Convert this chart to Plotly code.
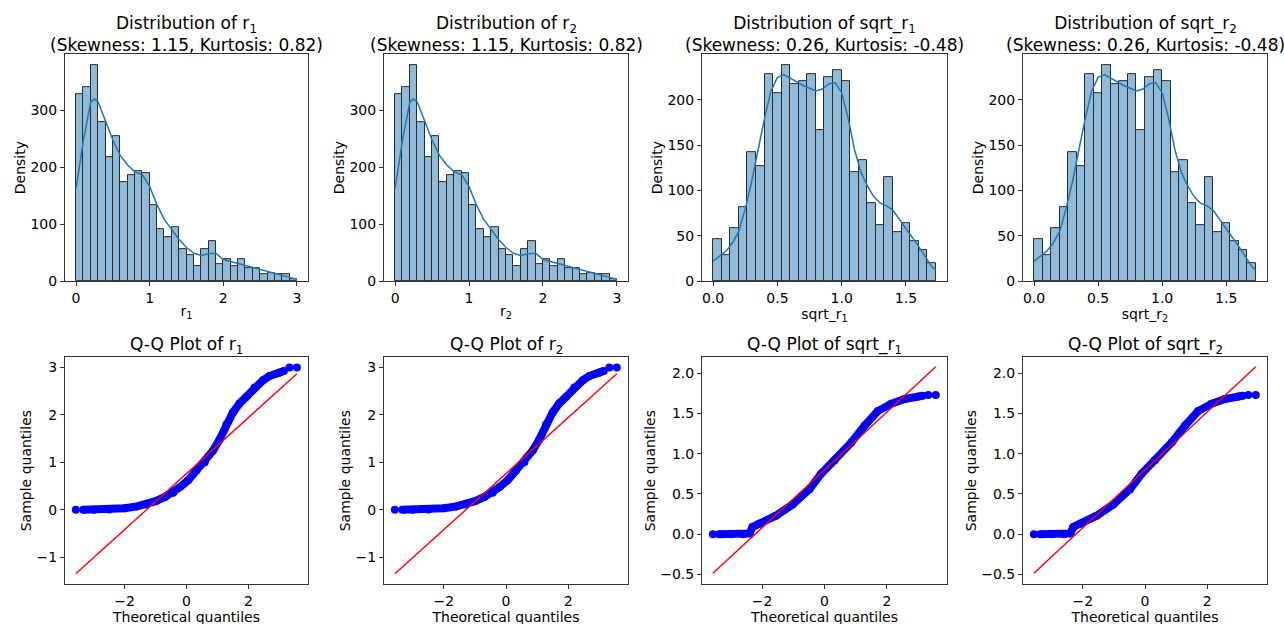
import numpy as np
import plotly.graph_objects as go

# ---------------- data ----------------
# histogram of r (30 bins on [0, 3])
r_bin_range = (0.0, 3.0)
r_counts = [328, 341, 380, 279, 218, 255, 174, 186, 194, 190,
            133, 92, 77, 95, 57, 46, 26, 57, 70, 29,
            38, 26, 39, 23, 22, 13, 14, 13, 12, 4]
r_kde_x = [0.0, 0.1, 0.2, 0.25, 0.3, 0.4, 0.5, 0.6, 0.7, 0.8, 0.9, 1.0, 1.1, 1.2,
           1.3, 1.4, 1.5, 1.6, 1.7, 1.8, 1.9, 2.0, 2.2, 2.4, 2.6, 2.8, 3.0]
r_kde_y = [163, 248, 315, 320, 315, 283, 248, 221, 204, 192, 187, 166, 134, 108,
           91, 73, 59, 49, 45, 48, 49, 38, 31, 24, 16, 10, 3]

# histogram of sqrt_r (26 bins on [0, sqrt(3)])
s_bin_range = (0.0, 1.732)
s_counts = [46, 29, 58, 82, 142, 127, 229, 208, 239, 218, 221, 229, 167,
            225, 233, 221, 120, 134, 86, 62, 115, 54, 64, 44, 34, 20]
s_kde_x = [0.0, 0.1, 0.15, 0.2, 0.25, 0.3, 0.35, 0.4, 0.45, 0.5, 0.55, 0.6, 0.7, 0.8,
           0.85, 0.9, 0.95, 1.0, 1.05, 1.1, 1.15, 1.2, 1.25, 1.3, 1.35, 1.4, 1.45,
           1.5, 1.6, 1.7, 1.732]
s_kde_y = [22, 33, 42, 55, 80, 110, 145, 180, 210, 225, 228, 224, 216, 210,
           212, 218, 219, 208, 180, 145, 120, 105, 93, 86, 83, 78, 68,
           57, 38, 16, 12]

# Q-Q plot of r
qq_r_theo = [-3.34, -3.0, -2.5, -2.0, -1.6, -1.3, -1.0, -0.7, -0.43, -0.21, 0.05, 0.32,
             0.59, 0.86, 1.07, 1.29, 1.5, 1.71, 1.93, 2.2, 2.47, 2.68, 3.0, 3.15]
qq_r_samp = [0.0, 0.0, 0.005, 0.03, 0.07, 0.11, 0.18, 0.27, 0.36, 0.48, 0.62, 0.83,
             1.0, 1.25, 1.48, 1.8, 2.05, 2.24, 2.38, 2.58, 2.73, 2.82, 2.89, 2.93]
qq_r_ext_theo = [-3.58, 3.33, 3.57]
qq_r_ext_samp = [0.0, 3.0, 3.0]
qq_r_line_x = [-3.58, 3.57]
qq_r_line_y = [-1.35, 2.87]

# Q-Q plot of sqrt_r
qq_s_theo = [-3.38, -3.0, -2.6, -2.4, -2.31, -2.09, -1.56, -1.02, -0.48, -0.11, 0.32,
             0.86, 1.29, 1.71, 2.14, 2.57, 3.0, 3.15]
qq_s_samp = [0.0, 0.0, 0.0, 0.01, 0.09, 0.13, 0.23, 0.37, 0.56, 0.75, 0.92,
             1.14, 1.35, 1.53, 1.62, 1.68, 1.71, 1.72]
qq_s_ext_theo = [-3.58, 3.33, 3.57]
qq_s_ext_samp = [0.0, 1.73, 1.73]
qq_s_line_x = [-3.58, 3.57]
qq_s_line_y = [-0.485, 2.08]

names = ["r<sub>1</sub>", "r<sub>2</sub>", "sqrt_r<sub>1</sub>", "sqrt_r<sub>2</sub>"]
skew_kurt = ["(Skewness: 1.15, Kurtosis: 0.82)", "(Skewness: 1.15, Kurtosis: 0.82)",
             "(Skewness: 0.26, Kurtosis: -0.48)", "(Skewness: 0.26, Kurtosis: -0.48)"]

# ---------------- layout geometry ----------------
W, H = 1284, 624          # reference picture size (positions below are in its pixels)
FIG_H = 630               # figure height actually used
col_px = [(65, 308), (384, 628), (702, 947), (1023, 1267)]
top_px = (54.3, 282)
bot_px = (358.3, 586)

def xd(c):
    return [col_px[c][0] / W, col_px[c][1] / W]

def yd(rp):
    return [1 - rp[1] / H, 1 - rp[0] / H]

fig = go.Figure()

hist_blue = "rgba(31,119,180,0.5)"
edge = "#2a2a2a"
kde_col = "#1f77b4"

def add_hist(idx, counts, rng, kx, ky):
    n = len(counts)
    bw = (rng[1] - rng[0]) / n
    edges = [rng[0] + i * bw for i in range(n)]
    xa = "x" if idx == 1 else f"x{idx}"
    ya = "y" if idx == 1 else f"y{idx}"
    fig.add_trace(go.Bar(x=edges, y=counts, width=bw, offset=0,
                         marker=dict(color=hist_blue, line=dict(color=edge, width=1)),
                         xaxis=xa, yaxis=ya, showlegend=False))
    fig.add_trace(go.Scatter(x=kx, y=ky, mode="lines", line=dict(color=kde_col, width=1.5),
                             xaxis=xa, yaxis=ya, showlegend=False))

def add_qq(idx, tx, sy, ex, ey, lx, ly):
    xa = f"x{idx}"
    ya = f"y{idx}"
    fig.add_trace(go.Scatter(x=tx, y=sy, mode="lines+markers",
                             line=dict(color="blue", width=8),
                             marker=dict(color="blue", size=8),
                             xaxis=xa, yaxis=ya, showlegend=False))
    fig.add_trace(go.Scatter(x=ex, y=ey, mode="markers",
                             marker=dict(color="blue", size=8),
                             xaxis=xa, yaxis=ya, showlegend=False))
    fig.add_trace(go.Scatter(x=lx, y=ly, mode="lines", line=dict(color="red", width=1.4),
                             xaxis=xa, yaxis=ya, showlegend=False))

hist_data = [(r_counts, r_bin_range, r_kde_x, r_kde_y), (r_counts, r_bin_range, r_kde_x, r_kde_y),
             (s_counts, s_bin_range, s_kde_x, s_kde_y), (s_counts, s_bin_range, s_kde_x, s_kde_y)]
for c in range(4):
    add_hist(c + 1, *hist_data[c])

qq_data = [(qq_r_theo, qq_r_samp, qq_r_ext_theo, qq_r_ext_samp, qq_r_line_x, qq_r_line_y),
           (qq_r_theo, qq_r_samp, qq_r_ext_theo, qq_r_ext_samp, qq_r_line_x, qq_r_line_y),
           (qq_s_theo, qq_s_samp, qq_s_ext_theo, qq_s_ext_samp, qq_s_line_x, qq_s_line_y),
           (qq_s_theo, qq_s_samp, qq_s_ext_theo, qq_s_ext_samp, qq_s_line_x, qq_s_line_y)]
for c in range(4):
    add_qq(c + 5, *qq_data[c])

axis_style = dict(showline=True, linecolor="#333", linewidth=1, mirror=True,
                  ticks="outside", ticklen=4, tickwidth=1, tickcolor="#333",
                  showgrid=False, zeroline=False,
                  tickfont=dict(size=14, color="black"))

layout = dict(width=W, height=FIG_H, margin=dict(l=0, r=0, t=0, b=0),
              paper_bgcolor="white", plot_bgcolor="white", showlegend=False,
              font=dict(family="DejaVu Sans", color="black"), bargap=0)

annotations = []
for c in range(4):
    # histogram axes
    i = c + 1
    xk = "xaxis" if i == 1 else f"xaxis{i}"
    yk = "yaxis" if i == 1 else f"yaxis{i}"
    an = "y" if i == 1 else f"y{i}"
    axn = "x" if i == 1 else f"x{i}"
    if c < 2:
        xr, xt, xfmt, yr, yt = [-0.15, 3.15], [0, 1, 2, 3], None, [0, 399], [0, 100, 200, 300]
    else:
        xr, xt, xfmt, yr, yt = [-0.0866, 1.819], [0, 0.5, 1.0, 1.5], ".1f", [0, 250.6], [0, 50, 100, 150, 200]
    layout[xk] = dict(axis_style, domain=xd(c), anchor=an, range=xr, tickvals=xt,
                      tickformat=xfmt, ticklabelstandoff=0,
                      title=dict(text=names[c], font=dict(size=14, color="black"), standoff=1))
    layout[yk] = dict(axis_style, domain=yd(top_px), anchor=axn, range=yr, tickvals=yt,
                      title=dict(text="Density", font=dict(size=14, color="black"), standoff=1))
    annotations.append(dict(text=f"Distribution of {names[c]}<br>{skew_kurt[c]}",
                            x=(xd(c)[0] + xd(c)[1]) / 2, y=yd(top_px)[1],
                            xref="paper", yref="paper", xanchor="center", yanchor="bottom",
                            yshift=-3, showarrow=False, font=dict(size=17, color="black")))
    # qq axes
    j = c + 5
    if c < 2:
        qyr, qyt, qfmt = [-1.57, 3.22], [-1, 0, 1, 2, 3], None
    else:
        qyr, qyt, qfmt = [-0.62, 2.2], [-0.5, 0, 0.5, 1.0, 1.5, 2.0], ".1f"
    layout[f"xaxis{j}"] = dict(axis_style, domain=xd(c), anchor=f"y{j}", range=[-3.93, 3.93],
                               tickvals=[-2, 0, 2], ticklabelstandoff=0,
                               title=dict(text="Theoretical quantiles",
                                          font=dict(size=14, color="black"), standoff=1))
    layout[f"yaxis{j}"] = dict(axis_style, domain=yd(bot_px), anchor=f"x{j}", range=qyr,
                               tickvals=qyt, tickformat=qfmt,
                               title=dict(text="Sample quantiles",
                                          font=dict(size=14, color="black"), standoff=1))
    annotations.append(dict(text=f"Q-Q Plot of {names[c]}",
                            x=(xd(c)[0] + xd(c)[1]) / 2, y=yd(bot_px)[1],
                            xref="paper", yref="paper", xanchor="center", yanchor="bottom",
                            yshift=-2, showarrow=False, font=dict(size=17, color="black")))

layout["annotations"] = annotations
fig.update_layout(**layout)

page_fix = (
    "var h=document.documentElement.style;h.margin='0';h.padding='0';h.overflow='hidden';"
    "var b=document.body.style;b.margin='0';b.padding='0';b.overflow='hidden';"
)
fig.write_html("out.html", config={"displayModeBar": False}, post_script=page_fix)
